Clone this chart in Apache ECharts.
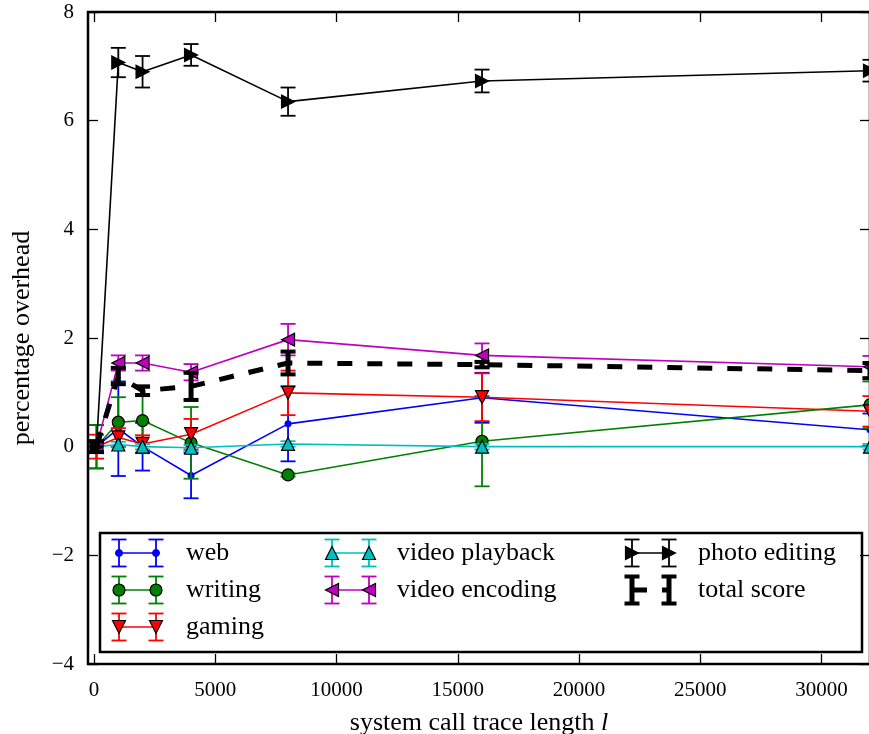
<!DOCTYPE html>
<html>
<head>
<meta charset="utf-8">
<script src="https://cdn.jsdelivr.net/npm/echarts@6/dist/echarts.min.js"></script>
<style>
  html, body { margin: 0; padding: 0; background: #fff; }
  #chart { width: 869px; height: 734px; }
</style>
</head>
<body>
<div id="chart"></div>
<script>
// Trace lengths l at which each workload was measured
const traceLengths = [100, 1000, 2000, 4000, 8000, 16000, 32000];

// Mean percentage overhead per workload, with its error (half-width)
const web           = [0.00, 0.33, 0.00, -0.53, 0.42, 0.90, 0.31];
const webErr        = [0.40, 0.87, 0.44, 0.42, 0.69, 0.46, 0.30];
const writing       = [0.00, 0.45, 0.48, 0.07, -0.52, 0.10, 0.77];
const writingErr    = [0.40, 0.46, 0.60, 0.66, 0.03, 0.83, 0.43];
const gaming        = [0.00, 0.17, 0.05, 0.23, 0.99, 0.91, 0.65];
const gamingErr     = [0.22, 0.17, 0.16, 0.28, 0.41, 0.44, 0.28];
const playback      = [0.00, 0.04, 0.00, -0.02, 0.05, 0.00, 0.00];
const playbackErr   = [0.08, 0.05, 0.05, 0.05, 0.05, 0.05, 0.05];
const encoding      = [0.00, 1.54, 1.54, 1.37, 1.97, 1.68, 1.47];
const encodingErr   = [0.10, 0.14, 0.14, 0.15, 0.29, 0.22, 0.20];
const photo         = [0.00, 7.07, 6.90, 7.21, 6.35, 6.73, 6.92];
const photoErr      = [0.10, 0.27, 0.29, 0.20, 0.26, 0.21, 0.20];
const total         = [0.00, 1.30, 1.03, 1.11, 1.54, 1.51, 1.40];
const totalErr      = [0.10, 0.15, 0.08, 0.25, 0.21, 0.05, 0.14];

// Tick positions
const xTicks = [0, 5000, 10000, 15000, 20000, 25000, 30000];
const yTicks = [-4, -2, 0, 2, 4, 6, 8];

const FONT = 'Liberation Serif';

// Triangle marker outlines (pointing down / up / left / right)
const TRI = {
  down:  'path://M0,0L2,0L1,2Z',
  up:    'path://M1,0L2,2L0,2Z',
  left:  'path://M2,0L2,2L0,1Z',
  right: 'path://M0,0L2,1L0,2Z'
};

const workloads = [
  { name: 'web',            values: web,      err: webErr,      color: '#0000ff', marker: 'dot' },
  { name: 'writing',        values: writing,  err: writingErr,  color: '#008000', marker: 'circle' },
  { name: 'gaming',         values: gaming,   err: gamingErr,   color: '#ff0000', marker: 'down' },
  { name: 'video playback', values: playback, err: playbackErr, color: '#00bfbf', marker: 'up' },
  { name: 'video encoding', values: encoding, err: encodingErr, color: '#bf00bf', marker: 'left' },
  { name: 'photo editing',  values: photo,    err: photoErr,    color: '#000000', marker: 'right' },
  { name: 'total score',    values: total,    err: totalErr,    color: '#000000', marker: 'none', thick: true }
];

function symbolFor(m) {
  if (m === 'dot') return { symbol: 'circle', size: 7, edge: null };
  if (m === 'circle') return { symbol: 'circle', size: 12, edge: '#000' };
  if (m === 'none') return { symbol: 'none', size: 0, edge: null };
  return { symbol: TRI[m], size: 13, edge: '#000' };
}

function errorBarRenderer(color, lw, capLw, half) {
  return function (params, api) {
    const x = api.value(0);
    const lo = api.coord([x, api.value(1)]);
    const hi = api.coord([x, api.value(2)]);
    const bar = { stroke: color, lineWidth: lw };
    const cap = { stroke: color, lineWidth: capLw };
    return {
      type: 'group',
      children: [
        { type: 'line', shape: { x1: lo[0], y1: lo[1], x2: hi[0], y2: hi[1] }, style: bar },
        { type: 'line', shape: { x1: lo[0] - half, y1: lo[1], x2: lo[0] + half, y2: lo[1] }, style: cap },
        { type: 'line', shape: { x1: hi[0] - half, y1: hi[1], x2: hi[0] + half, y2: hi[1] }, style: cap }
      ]
    };
  };
}

const series = [];
workloads.forEach((w, i) => {
  const sym = symbolFor(w.marker);
  series.push({
    type: 'custom',
    name: w.name + ' error',
    z: 2 + i * 2,
    silent: true,
    renderItem: errorBarRenderer(w.color, w.thick ? 5 : 1.8, w.thick ? 4 : 1.8, 7.5),
    encode: { x: 0, y: [1, 2] },
    data: traceLengths.map((x, k) => [x, w.values[k] - w.err[k], w.values[k] + w.err[k]])
  });
  series.push({
    type: 'line',
    name: w.name,
    z: 3 + i * 2,
    silent: true,
    data: traceLengths.map((x, k) => [x, w.values[k]]),
    symbol: sym.symbol,
    symbolSize: sym.size,
    showSymbol: sym.symbol !== 'none',
    itemStyle: {
      color: w.color,
      borderColor: sym.edge || w.color,
      borderWidth: sym.edge ? 1.2 : 0,
      opacity: 1
    },
    lineStyle: w.thick
      ? { color: '#000', width: 5, type: [15, 15] }
      : { color: w.color, width: 1.6 },
    emphasis: { disabled: true }
  });
});

// Legend drawn as graphic elements: three columns inside a framed box
const legendLayout = {
  cols: [
    { bar1: 119, bar2: 156, text: 186 },
    { bar1: 332, bar2: 369, text: 397 },
    { bar1: 632, bar2: 669, text: 698 }
  ],
  rows: [553, 590, 627],
  slots: [[0, 0], [0, 1], [0, 2], [1, 0], [1, 1], [2, 0], [2, 1]]
};

function markerShape(kind, cx, cy, fill) {
  const r = 6.5;
  if (kind === 'dot') return { type: 'circle', shape: { cx, cy, r: 3.5 }, style: { fill, stroke: fill } };
  if (kind === 'circle') return { type: 'circle', shape: { cx, cy, r: 6 }, style: { fill, stroke: '#000', lineWidth: 1.2 } };
  let pts;
  if (kind === 'down')  pts = [[cx - r, cy - r], [cx + r, cy - r], [cx, cy + r]];
  if (kind === 'up')    pts = [[cx, cy - r], [cx + r, cy + r], [cx - r, cy + r]];
  if (kind === 'left')  pts = [[cx + r, cy - r], [cx + r, cy + r], [cx - r, cy]];
  if (kind === 'right') pts = [[cx - r, cy - r], [cx + r, cy], [cx - r, cy + r]];
  return { type: 'polygon', shape: { points: pts }, style: { fill, stroke: '#000', lineWidth: 1.2 } };
}

const legendChildren = [
  { type: 'rect', shape: { x: 100, y: 533, width: 762, height: 119 },
    style: { fill: '#fff', stroke: '#000', lineWidth: 2.5 } }
];
workloads.forEach((w, i) => {
  const [c, r] = legendLayout.slots[i];
  const col = legendLayout.cols[c];
  const y = legendLayout.rows[r];
  const lw = w.thick ? 5 : 1.8;
  const capLw = w.thick ? 4 : 1.8;
  legendChildren.push({
    type: 'line',
    shape: { x1: col.bar1, y1: y, x2: col.bar2, y2: y },
    style: w.thick ? { stroke: '#000', lineWidth: 5, lineDash: [15, 15] } : { stroke: w.color, lineWidth: 1.6 }
  });
  [col.bar1, col.bar2].forEach(bx => {
    legendChildren.push(
      { type: 'line', shape: { x1: bx, y1: y - 13.5, x2: bx, y2: y + 13.5 }, style: { stroke: w.color, lineWidth: lw } },
      { type: 'line', shape: { x1: bx - 7.5, y1: y - 13.5, x2: bx + 7.5, y2: y - 13.5 }, style: { stroke: w.color, lineWidth: capLw } },
      { type: 'line', shape: { x1: bx - 7.5, y1: y + 13.5, x2: bx + 7.5, y2: y + 13.5 }, style: { stroke: w.color, lineWidth: capLw } }
    );
    if (w.marker !== 'none') legendChildren.push(markerShape(w.marker, bx, y, w.color));
  });
  legendChildren.push({
    type: 'text',
    style: { text: w.name, x: col.text, y: y, fill: '#000', fontFamily: FONT, fontSize: 26, verticalAlign: 'middle' }
  });
});

const minusFmt = v => (v < 0 ? '\u2212' + Math.abs(v) : String(v));

const tickStyle = { color: '#000', width: 1.3 };
const hiddenLine = { show: false, onZero: false };

const option = {
  animation: false,
  backgroundColor: '#fff',
  grid: {
    left: 88, top: 12, width: 782, height: 652,
    outerBoundsMode: 'none', containLabel: false,
    show: true, borderColor: '#000', borderWidth: 2.5, backgroundColor: 'transparent'
  },
  xAxis: [
    {
      type: 'value', min: -250, max: 32000, position: 'bottom',
      axisLine: hiddenLine, splitLine: { show: false },
      axisTick: { inside: true, length: 10, customValues: xTicks, lineStyle: tickStyle },
      axisLabel: { customValues: xTicks, fontFamily: FONT, fontSize: 21, color: '#000', margin: 16, formatter: v => String(v) },
      name: '{a|system call trace length }{i|l}',
      nameLocation: 'middle', nameGap: 46,
      nameTextStyle: {
        rich: {
          a: { fontFamily: FONT, fontSize: 26, color: '#000' },
          i: { fontFamily: FONT, fontSize: 26, color: '#000', fontStyle: 'italic' }
        }
      }
    },
    {
      type: 'value', min: -250, max: 32000, position: 'top',
      axisLine: hiddenLine, splitLine: { show: false },
      axisTick: { inside: true, length: 10, customValues: xTicks, lineStyle: tickStyle },
      axisLabel: { show: false }
    }
  ],
  yAxis: [
    {
      type: 'value', min: -4, max: 8, interval: 2, position: 'left',
      axisLine: hiddenLine, splitLine: { show: false },
      axisTick: { inside: true, length: 10, lineStyle: tickStyle },
      axisLabel: { fontFamily: FONT, fontSize: 21, color: '#000', margin: 14, formatter: minusFmt },
      name: 'percentage overhead', nameLocation: 'middle', nameGap: 53,
      nameTextStyle: { fontFamily: FONT, fontSize: 26, color: '#000' }
    },
    {
      type: 'value', min: -4, max: 8, interval: 2, position: 'right',
      axisLine: hiddenLine, splitLine: { show: false },
      axisTick: { inside: true, length: 10, lineStyle: tickStyle },
      axisLabel: { show: false }
    }
  ],
  series: series,
  graphic: [{ type: 'group', z: 100, children: legendChildren }]
};

const chart = echarts.init(document.getElementById('chart'), null, { renderer: 'canvas' });
chart.setOption(option);
</script>
</body>
</html>
